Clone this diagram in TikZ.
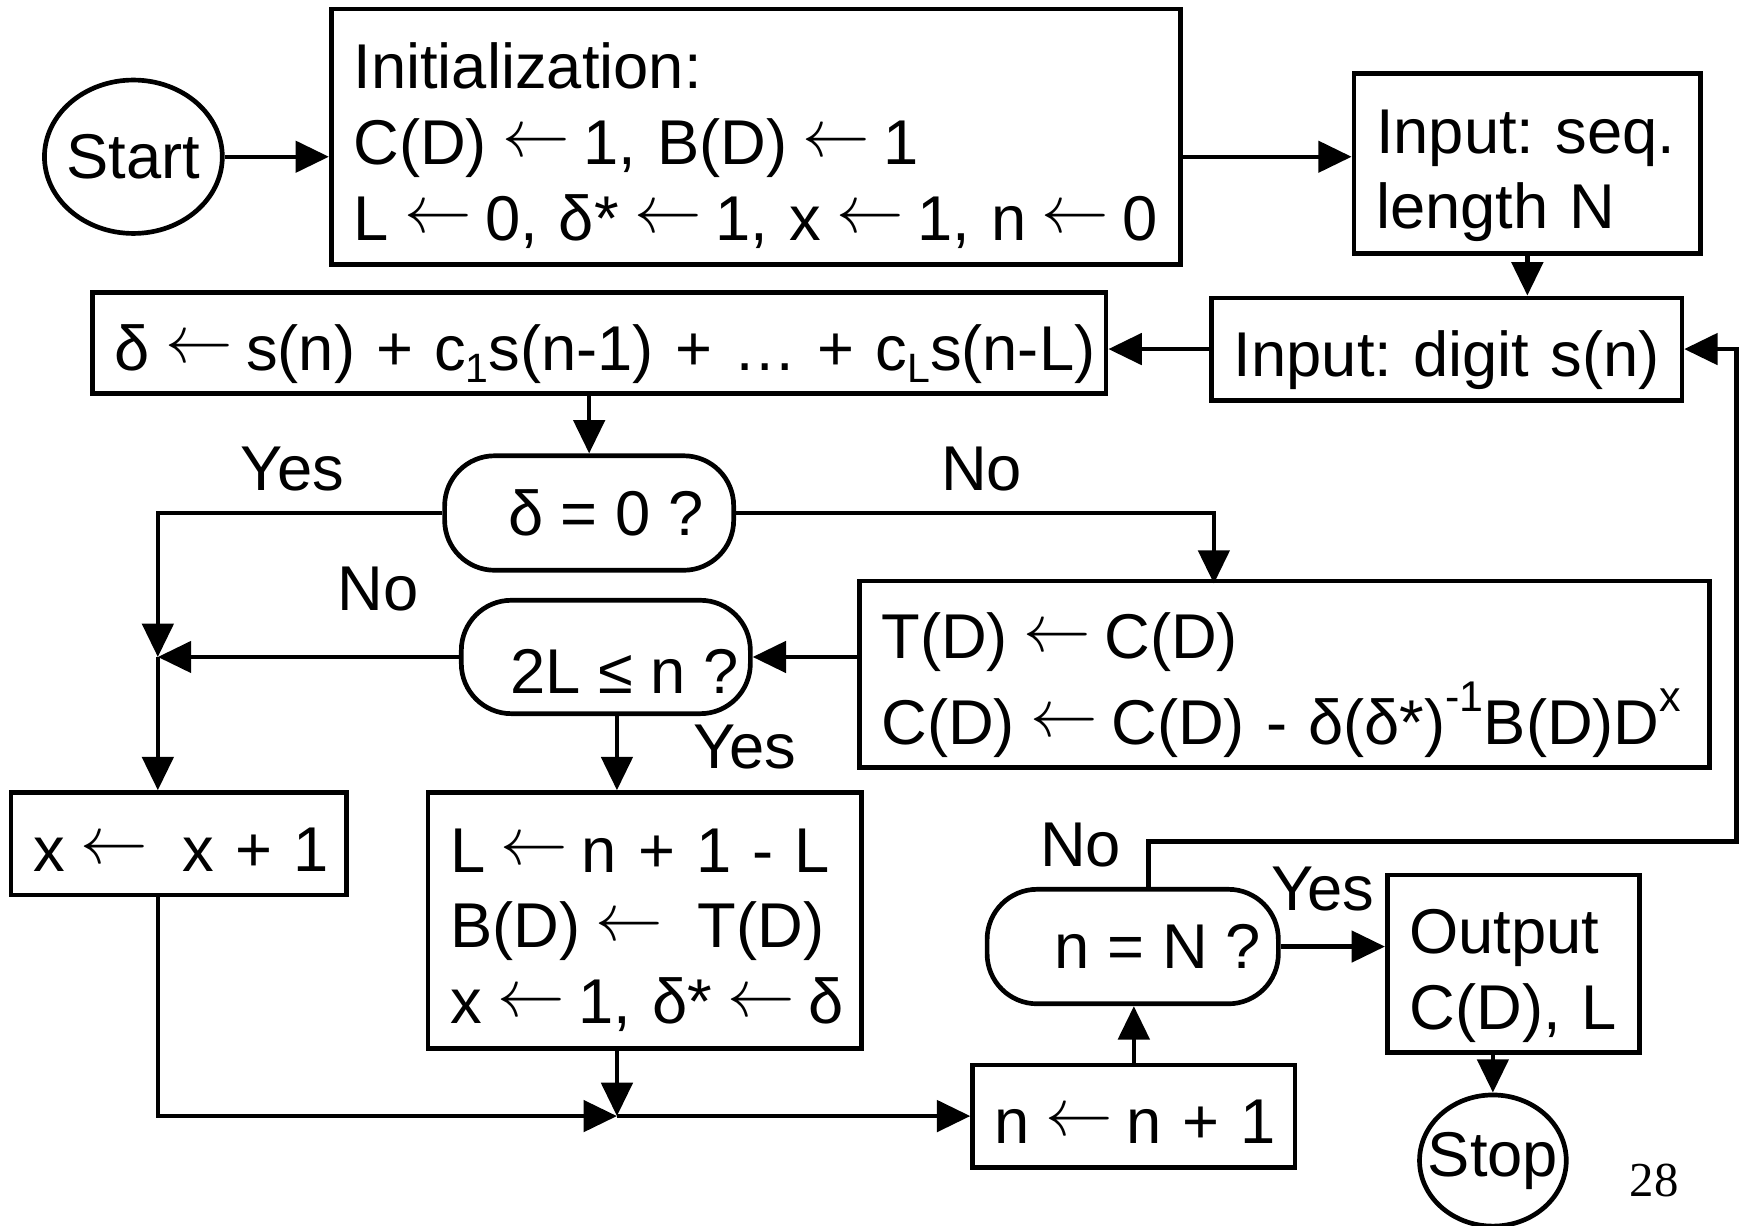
\documentclass[tikz,border=0pt]{standalone}
\usepackage{fontspec}
\setmainfont{Liberation Sans}
\newfontfamily\timesfont{Liberation Serif}
\usetikzlibrary{arrows.meta,shapes.geometric,calc}
\newcommand{\mysub}[1]{\raisebox{-0.35ex}{\fontsize{10.5}{10.5}\selectfont #1}}
\newcommand{\mysup}[1]{\raisebox{1.0ex}{\fontsize{11}{11}\selectfont #1}}
\newcommand{\myarr}{\hspace{-0.09em}\raisebox{0.12em}{$\leftarrow$}\hspace{-0.12em}}
\newcommand{\mylines}[1]{\begin{tabular}{@{}l@{}}\rule{0pt}{19.9pt}#1\end{tabular}}
\begin{document}
\begin{tikzpicture}[x=1cm,y=1cm,
  every node/.style={font=\fontsize{16.2}{19.4}\selectfont\frenchspacing},
  box/.style={draw, line width=1.2pt, rectangle, inner ysep=0pt, inner xsep=0.2cm, align=left},
  dec/.style={draw, line width=1.2pt, rounded corners=0.45cm, minimum width=2.6cm, minimum height=1.03cm, inner sep=0pt},
  ell/.style={draw, line width=1.2pt, ellipse, inner sep=0pt},
  arr/.style={line width=1.15pt, -{Triangle[length=0.3cm,width=0.28cm]}},
  lbl/.style={inner sep=0pt}
]
\useasboundingbox (0,0) rectangle (15.68,-11.02);

% nodes
\node[ell, minimum width=1.6cm, minimum height=1.38cm, label=center:Start] (Start) at (1.20,-1.41) {};
\node[box, minimum height=2.30cm, text width=7.24cm] (Init) at (6.80,-1.23)
  {\mylines{Initialization:\\C(D) \myarr{} 1, B(D) \myarr{} 1\\L \myarr{} 0, δ* \myarr{} 1, x \myarr{} 1, n \myarr{} 0}};
\node[box, minimum height=1.62cm, text width=2.72cm] (InSeq) at (13.74,-1.47)
  {\mylines{Input: seq.\\length N}};
\node[box, minimum height=0.92cm, text width=3.83cm] (InDig) at (13.015,-3.14)
  {\mylines{Input: digit s(n)}};
\node[box, minimum height=0.91cm, text width=8.72cm] (Delta) at (5.39,-3.085)
  {\mylines{δ \myarr{} s(n) + c\mysub{1}s(n-1) + … + c\mysub{L}s(n-L)}};
\node[dec] (Dec1) at (5.30,-4.615) {\hspace{0.3cm}δ = 0 ?};
\node[box, minimum height=1.63cm, text width=7.25cm] (T) at (11.555,-6.065)
  {\mylines{T(D) \myarr{} C(D)\\C(D) \myarr{} C(D) - δ(δ*)\mysup{-1}B(D)D\mysup{x}}};
\node[dec, minimum height=1.02cm, text height=0.7cm, text depth=0.05cm] (Dec2) at (5.45,-5.91) {\hspace{0.34cm}2L ≤ n ?};
\node[box, minimum height=0.92cm, text width=2.62cm] (Xbox) at (1.61,-7.59)
  {\mylines{x \myarr\ \ x + 1}};
\node[box, minimum height=2.30cm, text width=3.50cm] (Lbox) at (5.80,-8.28)
  {\mylines{L \myarr{} n + 1 - L\\B(D) \myarr\ \ T(D)\\x \myarr{} 1, δ* \myarr{} δ}};
\node[box, minimum height=0.92cm, text width=2.50cm] (Nbox) at (10.20,-10.04)
  {\mylines{n \myarr{} n + 1}};
\node[dec, minimum width=2.62cm] (Dec3) at (10.19,-8.515) {\hspace{0.45cm}n = N ?};
\node[box, minimum height=1.60cm, text width=1.87cm] (Out) at (13.615,-8.67)
  {\mylines{Output\\C(D), L}};
\node[ell, minimum width=1.32cm, minimum height=1.18cm, label=center:Stop] (Stop) at (13.43,-10.44) {};
\node[lbl, font=\timesfont\fontsize{12.5}{13}\selectfont] (pg) at (14.88,-10.62) {28};

% labels
\node[lbl] (l1) at (2.63,-4.22) {Yes};
\node[lbl] (l2) at (8.83,-4.22) {No};
\node[lbl] (l3) at (3.40,-5.30) {No};
\node[lbl] (l4) at (6.70,-6.72) {Yes};
\node[lbl] (l5) at (9.72,-7.60) {No};
\node[lbl] (l6) at (11.90,-8.00) {Yes};

% coordinates
\coordinate (J1) at (1.42,-5.91);
\coordinate (Tin) at (10.92,-5.25);
\coordinate (D2s) at ($(Dec2.south)+(0.1,0)$);
\coordinate (J2) at (D2s |- Nbox.west);
\coordinate (D3n) at ($(Dec3.north)+(0.14,0)$);
\coordinate (R) at (15.62,-7.57);

% connectors
\draw[arr] (Start.east) -- (Start.east -| Init.west);
\draw[arr] (Init.east |- Start.east) -- (InSeq.west |- Start.east);
\draw[arr] (InSeq.south) -- (InSeq.south |- InDig.north);
\draw[arr] (InDig.west) -- (InDig.west -| Delta.east);
\draw[arr] (Dec1.north |- Delta.south) -- (Dec1.north);
\draw[arr] (Dec1.west) -| (J1);
\draw[arr] (Dec1.east) -| (Tin);
\draw[arr] (T.west |- Dec2.east) -- (Dec2.east);
\draw[arr] (Dec2.west) -- (J1);
\draw[arr] (J1) -- (J1 |- Xbox.north);
\draw[arr] (D2s) -- (D2s |- Lbox.north);
\draw[arr] (J1 |- Xbox.south) |- (J2);
\draw[arr] (D2s |- Lbox.south) -- (J2);
\draw[arr] (J2) -- (Nbox.west);
\draw[arr] (Nbox.north) -- (Nbox.north |- Dec3.south);
\draw[arr] (D3n) |- (R) |- (InDig.east);
\draw[arr] (Dec3.east) -- (Dec3.east -| Out.west);
\draw[arr] (Out.south -| Stop.north) -- (Stop.north);
\end{tikzpicture}
\end{document}
